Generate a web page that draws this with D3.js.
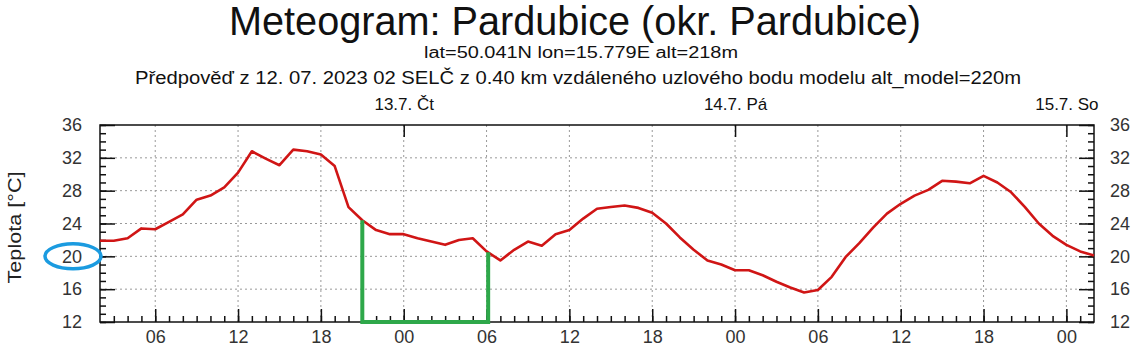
<!DOCTYPE html>
<html>
<head>
<meta charset="utf-8">
<style>
  body { margin: 0; background: #fff; }
  text { font-family: "Liberation Sans", Arial, sans-serif; }
</style>
</head>
<body>
<script src="https://d3js.org/d3.v7.min.js"></script>
<svg id="chart" width="1142" height="351"></svg>
<script>
// hourly temperature from 12.7. 02:00 to 15.7. 02:00
const temps = [21.9, 21.9, 22.2, 23.4, 23.3, 24.2, 25.1, 26.9, 27.4, 28.4, 30.2, 32.8,
  31.9, 31.1, 33.0, 32.8, 32.4, 31.0, 26.0, 24.4, 23.2, 22.7, 22.7, 22.2,
  21.8, 21.4, 22.0, 22.2, 20.6, 19.5, 20.8, 21.8, 21.3, 22.7, 23.2, 24.6,
  25.8, 26.0, 26.2, 25.9, 25.3, 24.0, 22.3, 20.8, 19.5, 19.0, 18.3, 18.3,
  17.7, 16.9, 16.2, 15.6, 15.9, 17.5, 19.9, 21.6, 23.5, 25.2, 26.4, 27.4,
  28.1, 29.2, 29.1, 28.9, 29.8, 29.0, 27.8, 26.0, 24.0, 22.5, 21.4, 20.6, 20.1]
const startTime = Date.UTC(2023, 6, 12, 2)
const yTicks = [12, 16, 20, 24, 28, 32, 36]
const dayLabels = ["13.7. Čt", "14.7. Pá", "15.7. So"]
const greenTimes = ["2023-07-12T21:00Z", "2023-07-12T21:00Z", "2023-07-13T06:07Z", "2023-07-13T06:07Z"]
const greenTemps = [24.4, 12, 12, 20.5]
const circledTick = 20

const title = "Meteogram: Pardubice (okr. Pardubice)"
const sub1 = "lat=50.041N lon=15.779E alt=218m"
const sub2 = "Předpověď z 12. 07. 2023 02 SELČ z 0.40 km vzdáleného uzlového bodu modelu alt_model=220m"

const times = temps.map((t, i) => new Date(startTime + i * 3600e3))
const svg = d3.select("#chart")

const xScale = d3.scaleUtc().domain([times[0], times[times.length - 1]]).range([100, 1094])
const yScale = d3.scaleLinear().domain([12, 36]).range([322, 125])
const [x0, x1] = xScale.range()
const [y0, y1] = yScale.range()

// titles (condensed look)
svg.append("text").attr("x", 575).attr("y", 35).attr("text-anchor", "middle")
  .attr("font-size", 40).attr("fill", "#111")
  .attr("textLength", 692).attr("lengthAdjust", "spacingAndGlyphs").text(title)
svg.append("text").attr("x", 581).attr("y", 58).attr("text-anchor", "middle")
  .attr("font-size", 16).attr("fill", "#111")
  .attr("textLength", 314).attr("lengthAdjust", "spacingAndGlyphs").text(sub1)
svg.append("text").attr("x", 578).attr("y", 84).attr("text-anchor", "middle")
  .attr("font-size", 18).attr("fill", "#111")
  .attr("textLength", 886).attr("lengthAdjust", "spacingAndGlyphs").text(sub2)

// grid
const gridTimes = d3.utcHour.every(6).range(times[0], times[times.length - 1]).filter(d => +d > +times[0])
svg.append("g").selectAll("line").data(gridTimes).enter().append("line")
  .attr("x1", d => xScale(d)).attr("x2", d => xScale(d))
  .attr("y1", y1).attr("y2", y0)
  .attr("stroke", "#999").attr("stroke-dasharray", "2,3")
svg.append("g").selectAll("line").data(yTicks.slice(1, -1)).enter().append("line")
  .attr("x1", x0).attr("x2", x1)
  .attr("y1", d => yScale(d)).attr("y2", d => yScale(d))
  .attr("stroke", "#999").attr("stroke-dasharray", "2,3")

// axes
function styleAxis(g) {
  g.select(".domain").remove()
  g.selectAll("line").attr("stroke", "#111").attr("stroke-width", 1.5)
  g.selectAll("text").attr("fill", "#333").attr("font-size", 18)
    .style("font-family", "'Liberation Sans', Arial")
}
const minorY = d3.range(12, 37, 1)
svg.append("g").attr("transform", `translate(${x0},0)`)
  .call(d3.axisLeft(yScale).tickValues(minorY).tickSize(-6).tickFormat("")).call(styleAxis)
svg.append("g").attr("transform", `translate(${x0},0)`)
  .call(d3.axisLeft(yScale).tickValues(yTicks).tickSize(-15).tickPadding(18)).call(styleAxis)
svg.append("g").attr("transform", `translate(${x1},0)`)
  .call(d3.axisRight(yScale).tickValues(minorY).tickSize(-6).tickFormat("")).call(styleAxis)
svg.append("g").attr("transform", `translate(${x1},0)`)
  .call(d3.axisRight(yScale).tickValues(yTicks).tickSize(-15).tickPadding(16)).call(styleAxis)

const hourTicks = d3.utcHour.every(1).range(times[0], times[times.length - 1]).filter(d => +d > +times[0])
svg.append("g").attr("transform", `translate(0,${y0})`)
  .call(d3.axisBottom(xScale).tickValues(hourTicks).tickSize(-6).tickFormat("")).call(styleAxis)
svg.append("g").attr("transform", `translate(0,${y0})`)
  .call(d3.axisBottom(xScale).tickValues(gridTimes).tickSize(-13).tickPadding(8)
    .tickFormat(d3.utcFormat("%H"))).call(styleAxis)

const dayTicks = d3.utcDay.every(1).range(times[0], times[times.length - 1])
svg.append("g").attr("transform", `translate(0,${y1})`)
  .call(d3.axisTop(xScale).tickValues(dayTicks).tickSize(-12).tickPadding(15)
    .tickFormat((d, i) => dayLabels[i])).call(styleAxis)
  .selectAll("text").attr("fill", "#111").attr("font-size", 17)

// frame
svg.append("rect").attr("x", x0).attr("y", y1).attr("width", x1 - x0).attr("height", y0 - y1)
  .attr("fill", "none").attr("stroke", "#111").attr("stroke-width", 1.5)

// y title
svg.append("text").attr("transform", `translate(21,${(y0 + y1) / 2 + 4}) rotate(-90)`)
  .attr("text-anchor", "middle").attr("font-size", 18).attr("fill", "#222")
  .attr("textLength", 112).attr("lengthAdjust", "spacingAndGlyphs").text("Teplota [°C]")

// temperature line
const tempLine = d3.line().x((d, i) => xScale(times[i])).y(d => yScale(d))
svg.append("path").attr("d", tempLine(temps))
  .attr("fill", "none").attr("stroke", "#d01515").attr("stroke-width", 2.6)
  .attr("stroke-linejoin", "round")

// annotations
const greenLine = d3.line().x((d, i) => xScale(new Date(greenTimes[i]))).y(d => yScale(d))
svg.append("path").attr("d", greenLine(greenTemps))
  .attr("fill", "none").attr("stroke", "#2ea84a").attr("stroke-width", 4)
svg.append("ellipse").attr("cx", x0 - 27).attr("cy", yScale(circledTick))
  .attr("rx", 28).attr("ry", 12.5)
  .attr("fill", "none").attr("stroke", "#1b9be0").attr("stroke-width", 3.5)
</script>
</body>
</html>
